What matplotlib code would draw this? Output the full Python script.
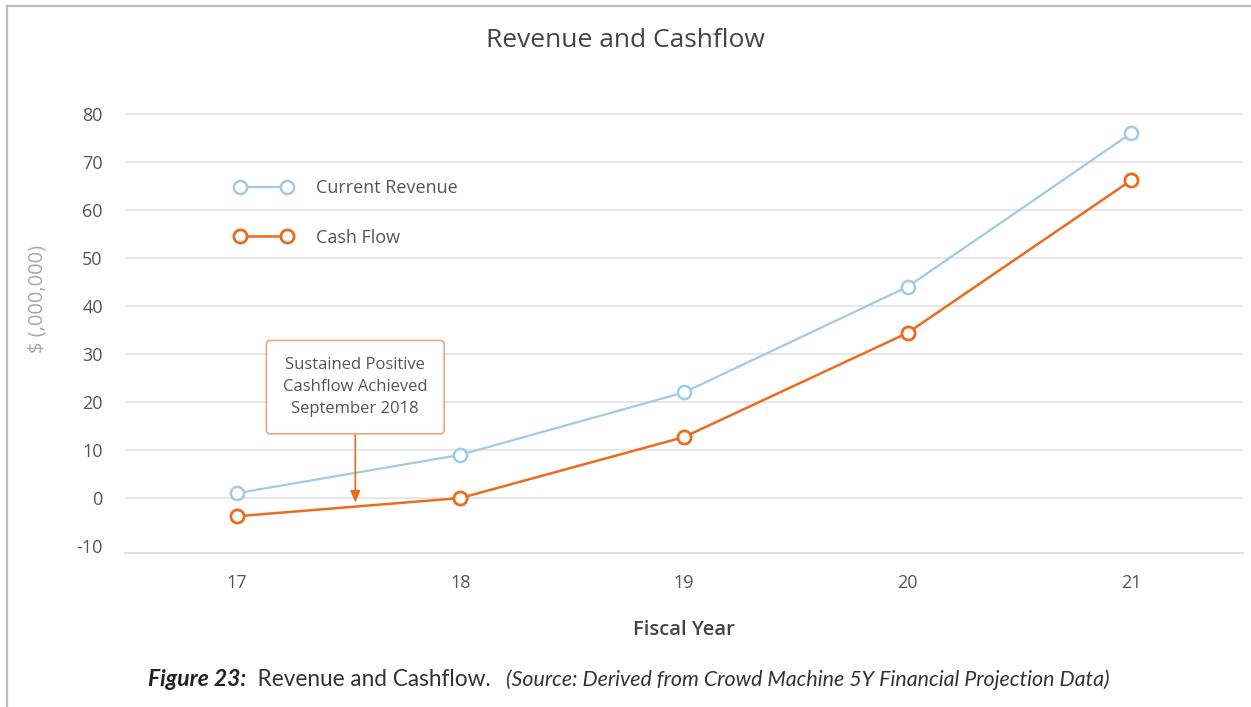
import matplotlib
matplotlib.use("Agg")
import matplotlib.pyplot as plt

plt.rcParams['font.family'] = ['Open Sans', 'DejaVu Sans']
plt.rcParams['axes.unicode_minus'] = False

# data
years = [17, 18, 19, 20, 21]
revenue = [1, 9, 22, 44, 76]
cash_flow = [-3.8, 0, 12.7, 34.4, 66.2]
yticks = [-10, 0, 10, 20, 30, 40, 50, 60, 70, 80]
note_x = 17.53
note_text = "Sustained Positive\nCashflow Achieved\nSeptember 2018"

blue = '#9fcbe6'
orange = '#ea6d1e'
grid_c = '#e3e3e3'

fig = plt.figure(figsize=(12.51, 7.07), dpi=100)
ax = fig.add_axes([0.0999, 0.2175, 0.8937, 0.6246])

# outer frame (left and top only, as in the scan)
fig.add_artist(plt.Line2D([0.0056, 0.0056], [0, 0.9915], transform=fig.transFigure,
                          color='#bdbdbd', lw=1.6))
fig.add_artist(plt.Line2D([0.0056, 1], [0.9915, 0.9915], transform=fig.transFigure,
                          color='#bdbdbd', lw=1.6))

for t in yticks[1:]:
    ax.axhline(t, color=grid_c, lw=1.2, zorder=0)

ax.plot(years, revenue, color=blue, lw=1.6, marker='o', ms=9.5, mfc='white',
        mec=blue, mew=1.8, label='Current Revenue', zorder=3)
ax.plot(years, cash_flow, color=orange, lw=1.8, marker='o', ms=9.5, mfc='white',
        mec=orange, mew=2.0, label='Cash Flow', zorder=4)

ax.set_xlim(16.5, 21.5)
ax.set_ylim(-11.5, 80.5)
ax.set_xticks(years)
ax.set_yticks(yticks)
ax.tick_params(length=0, labelsize=13, labelcolor='#555555')
ax.tick_params(axis='y', pad=16)
ax.tick_params(axis='x', pad=15)
for s in ['top', 'right', 'left']:
    ax.spines[s].set_visible(False)
ax.spines['bottom'].set_color('#dadada')
ax.spines['bottom'].set_linewidth(1.2)

ax.set_xlabel('Fiscal Year', fontsize=14.5, color='#444444', fontweight='semibold',
              labelpad=20)
ax.set_ylabel('$ (,000,000)', fontsize=14.5, color='#a8a8a8')
ax.yaxis.set_label_coords(-0.069, 0.575)

leg = ax.legend(loc='upper left', bbox_to_anchor=(0.090, 0.868), frameon=False,
                numpoints=2, handlelength=3.2, handletextpad=1.3, labelspacing=1.75,
                fontsize=13, borderpad=0)
for txt in leg.get_texts():
    txt.set_color('#555555')

ax.annotate(note_text, xy=(note_x, -1.0), xytext=(note_x, 23.1),
            ha='center', va='center', fontsize=12, color='#555555',
            linespacing=1.5,
            bbox=dict(boxstyle='round,pad=1.0,rounding_size=0.25', fc='white',
                      ec='#eca77a', lw=1.2),
            arrowprops=dict(arrowstyle='-|>,head_length=0.6,head_width=0.25',
                            color=orange, lw=1.2, shrinkA=0, shrinkB=0),
            zorder=5)

fig.text(0.5, 0.943, 'Revenue and Cashflow', ha='center', va='center',
         fontsize=19, color='#444444')

# caption, pieces chained left to right
cap = fig.text(0.1183, 0.0297, 'Figure 23:', fontsize=16.5, fontweight='bold',
               fontstyle='italic', color='#222222', va='baseline', family='Lato')
cap2 = ax.annotate('  Revenue and Cashflow.', xy=(1, 0), xycoords=cap,
                   fontsize=16.3, color='#333333', va='bottom', family='Lato',
                   annotation_clip=False)
ax.annotate('   (Source: Derived from Crowd Machine 5Y Financial Projection Data)',
            xy=(1, 0), xycoords=cap2, fontsize=15.4, fontstyle='italic',
            color='#333333', va='bottom', family='Lato', annotation_clip=False)

fig.savefig('out.png', dpi=100)
